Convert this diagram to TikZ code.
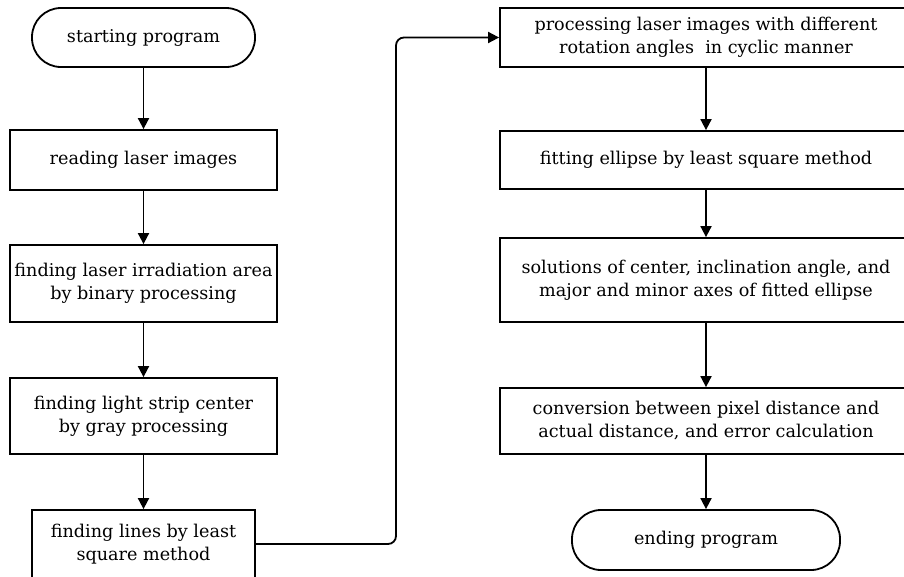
\documentclass[tikz,border=0pt]{standalone}
\usepackage{fontspec}
\setmainfont{DejaVu Serif}
\usetikzlibrary{arrows.meta}
\begin{document}
\begin{tikzpicture}[x=1pt,y=-1pt,
  every node/.style={font=\fontsize{17.6}{23}\selectfont},
  box/.style={draw, line width=1.8pt, rectangle, align=center, inner sep=0pt, minimum width=267pt},
  rbox/.style={box, minimum width=412pt},
  term/.style={draw, line width=1.8pt, rectangle, rounded corners=29pt, align=center, inner sep=0pt},
  arr/.style={line width=1.8pt, -{Triangle[width=11pt,length=11pt]}}
]
\useasboundingbox (0,0) rectangle (904,576);
\clip (0,0) rectangle (904,576);
\fill[white] (0,0) rectangle (904,576);

% left column
\node[term, minimum width=223pt, minimum height=59pt] (start) at (143.5,37.5) {starting program};
\node[box, minimum height=60pt] (read) at (143.5,160) {reading laser images};
\node[box, minimum height=77pt] (area) at (143.5,283.5) {finding laser irradiation area\\by binary processing};
\node[box, minimum height=76pt] (strip) at (143.5,416) {finding light strip center\\by gray processing};
\node[box, minimum width=223pt, minimum height=68pt] (lines) at (143.5,544) {finding lines by least\\square method};

% right column
\node[rbox, minimum height=59pt] (proc) at (706,37.5) {processing laser images with different\\rotation angles \ in cyclic manner};
\node[rbox, minimum height=58pt] (fit) at (706,160) {fitting ellipse by least square method};
\node[rbox, minimum height=84pt] (sol) at (706,280) {solutions of center, inclination angle, and\\major and minor axes of fitted ellipse};
\node[rbox, minimum height=66pt] (conv) at (706,421) {conversion between pixel distance and\\actual distance, and error calculation};
\node[term, minimum width=268pt, minimum height=60pt] (end) at (706,540) {ending program};

% connectors
\draw[arr] (start) -- (read);
\draw[arr] (read) -- (area);
\draw[arr] (area) -- (strip);
\draw[arr] (strip) -- (lines);
\coordinate (c1) at (396,544);
\coordinate (c2) at (396,37.5);
\draw[arr, rounded corners=8pt] (lines.east) -- (c1) -- (c2) -- (proc.west);
\draw[arr] (proc) -- (fit);
\draw[arr] (fit) -- (sol);
\draw[arr] (sol) -- (conv);
\draw[arr] (conv) -- (end);
\end{tikzpicture}
\end{document}
